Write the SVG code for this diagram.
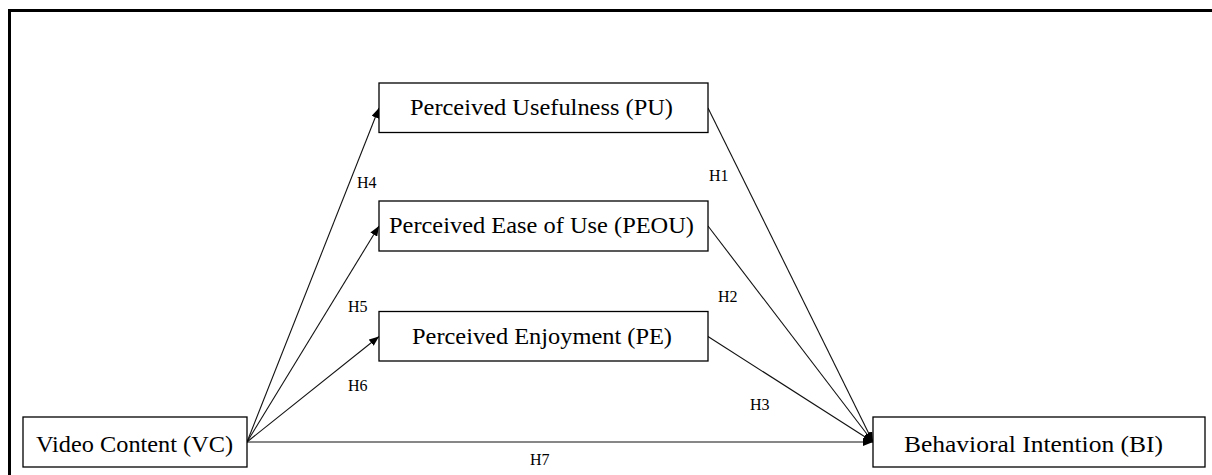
<svg xmlns="http://www.w3.org/2000/svg" width="1212" height="475" viewBox="0 0 1212 475">
<style>
.box{fill:#fff;stroke:#000;stroke-width:1.3}
.t{font-family:"Liberation Serif","Times New Roman",serif;font-size:22.5px;fill:#000}
.h{font-family:"Liberation Serif","Times New Roman",serif;font-size:16px;fill:#000}
.c{stroke:#111;stroke-width:1.1;fill:none;marker-end:url(#ah)}
</style>
<defs>
<marker id="ah" markerUnits="userSpaceOnUse" markerWidth="10" markerHeight="8" refX="10" refY="4" orient="auto">
<path d="M0,0 L10,4 L0,8 z" fill="#000"/>
</marker>
</defs>
<rect width="1212" height="475" fill="#fff"/>
<path d="M9.5 475 V10.5 H1212" fill="none" stroke="#000" stroke-width="3"/>
<g id="connectors">
<line class="c" x1="247" y1="442" x2="379" y2="108"/>
<line class="c" x1="247" y1="442" x2="379" y2="226"/>
<line class="c" x1="247" y1="442" x2="379" y2="336.5"/>
<line class="c" x1="247" y1="442" x2="873" y2="442"/>
<line class="c" x1="708" y1="108" x2="873" y2="442"/>
<line class="c" x1="708" y1="226" x2="873" y2="442"/>
<line class="c" x1="708" y1="336.5" x2="873" y2="442"/>
<text class="h" x="709" y="181">H1</text>
<text class="h" x="718" y="302">H2</text>
<text class="h" x="750" y="410">H3</text>
<text class="h" x="357" y="188">H4</text>
<text class="h" x="348" y="312">H5</text>
<text class="h" x="348" y="391">H6</text>
<text class="h" x="530" y="465">H7</text>
</g>
<g id="pu">
<rect class="box" x="379" y="83" width="329" height="49.5"/>
<text class="t" x="410" y="114.5" textLength="263" lengthAdjust="spacingAndGlyphs">Perceived Usefulness (PU)</text>
</g>
<g id="peou">
<rect class="box" x="379" y="201" width="329" height="50"/>
<text class="t" x="389" y="233" textLength="305" lengthAdjust="spacingAndGlyphs">Perceived Ease of Use (PEOU)</text>
</g>
<g id="pe">
<rect class="box" x="379" y="311.5" width="329" height="49.5"/>
<text class="t" x="412" y="343.5" textLength="260" lengthAdjust="spacingAndGlyphs">Perceived Enjoyment (PE)</text>
</g>
<g id="vc">
<rect class="box" x="23" y="417" width="224" height="50"/>
<text class="t" x="36" y="452" textLength="197" lengthAdjust="spacingAndGlyphs">Video Content (VC)</text>
</g>
<g id="bi">
<rect class="box" x="873" y="417" width="332" height="50"/>
<text class="t" x="904" y="452" textLength="259" lengthAdjust="spacingAndGlyphs">Behavioral Intention (BI)</text>
</g>
</svg>
